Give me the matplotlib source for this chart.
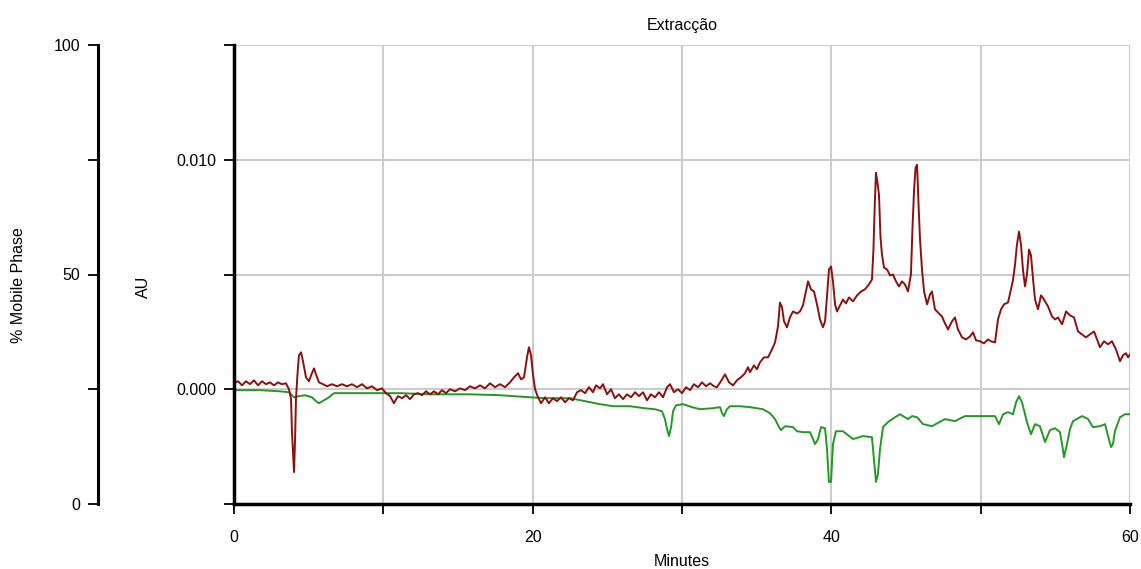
import numpy as np
from matplotlib import pyplot as plt, rcParams

rcParams['font.family'] = ['Liberation Sans', 'DejaVu Sans']
rcParams['axes.unicode_minus'] = False

# 数据（时间：分钟，吸光度：mAU）
red_t = [0.0, 0.27, 0.54, 0.80, 1.07, 1.34, 1.61, 1.88, 2.14, 2.41, 2.68, 2.95, 3.21, 3.48, 3.68,
         3.82, 3.88, 4.02, 4.09, 4.15, 4.25, 4.35, 4.49, 4.62, 4.82, 5.02, 5.22, 5.36, 5.49, 5.69,
         5.96, 6.23, 6.56, 6.90, 7.23, 7.57, 7.90, 8.24, 8.57, 8.91, 9.24, 9.58, 9.91, 10.18, 10.45,
         10.71, 10.98, 11.25, 11.52, 11.79, 12.05, 12.32, 12.59, 12.86, 13.13, 13.39, 13.66, 13.93,
         14.20, 14.46, 14.80, 15.13, 15.47, 15.80, 16.14, 16.47, 16.81, 17.14, 17.48, 17.81, 18.15,
         18.48, 18.75, 19.02, 19.22, 19.42, 19.62, 19.75, 19.89, 20.02, 20.16, 20.36, 20.56, 20.83,
         21.09, 21.36, 21.63, 21.90, 22.17, 22.43, 22.70, 22.97, 23.24, 23.51, 23.77, 24.04, 24.24,
         24.51, 24.71, 24.98, 25.25, 25.51, 25.78, 26.05, 26.32, 26.59, 26.85, 27.12, 27.39, 27.66,
         27.92, 28.19, 28.46, 28.73, 29.00, 29.20, 29.46, 29.73, 30.00, 30.27, 30.54, 30.80, 31.07,
         31.34, 31.61, 31.88, 32.14, 32.34, 32.61, 32.88, 33.15, 33.42, 33.68, 33.95, 34.22, 34.42,
         34.55, 34.82, 35.02, 35.22, 35.49, 35.76, 36.03, 36.23, 36.43, 36.56, 36.70, 36.83, 37.03,
         37.23, 37.43, 37.70, 37.90, 38.10, 38.30, 38.44, 38.64, 38.84, 39.04, 39.24, 39.44, 39.58,
         39.71, 39.84, 39.98, 40.11, 40.25, 40.38, 40.58, 40.78, 40.98, 41.18, 41.45, 41.72, 41.99,
         42.25, 42.52, 42.72, 42.82, 42.92, 42.99, 43.09, 43.19, 43.29, 43.39, 43.53, 43.73, 43.93,
         44.13, 44.33, 44.53, 44.73, 44.93, 45.13, 45.33, 45.43, 45.54, 45.64, 45.74, 45.84, 45.94,
         46.07, 46.21, 46.41, 46.61, 46.74, 46.94, 47.14, 47.41, 47.61, 47.81, 48.08, 48.28, 48.48,
         48.75, 49.02, 49.29, 49.49, 49.69, 49.96, 50.22, 50.49, 50.69, 50.96, 51.16, 51.36, 51.56,
         51.83, 52.03, 52.17, 52.30, 52.43, 52.57, 52.70, 52.83, 52.97, 53.10, 53.24, 53.37, 53.51,
         53.64, 53.84, 54.04, 54.24, 54.51, 54.78, 54.98, 55.18, 55.45, 55.72, 55.98, 56.25, 56.52,
         56.79, 57.05, 57.32, 57.59, 57.79, 57.99, 58.26, 58.53, 58.79, 59.06, 59.33, 59.53, 59.73,
         59.87, 60.0]
red_mau = [0.26, 0.35, 0.17, 0.35, 0.22, 0.39, 0.17, 0.35, 0.22, 0.30, 0.17, 0.30, 0.22, 0.26, 0.0,
           -0.43, -1.83, -3.61, -2.17, -0.43, 0.65, 1.48, 1.61, 1.22, 0.52, 0.35, 0.70, 0.91, 0.65, 0.30,
           0.22, 0.13, 0.22, 0.13, 0.22, 0.13, 0.22, 0.09, 0.22, 0.04, 0.13, -0.04, 0.04, -0.17, -0.30,
           -0.61, -0.30, -0.39, -0.26, -0.43, -0.22, -0.17, -0.26, -0.09, -0.22, -0.09, -0.22, -0.04,
           -0.17, 0.0, -0.09, 0.04, -0.04, 0.13, 0.04, 0.17, 0.04, 0.26, 0.09, 0.22, 0.09,
           0.30, 0.52, 0.70, 0.43, 0.52, 1.39, 1.83, 1.48, 0.65, 0.0, -0.35, -0.61, -0.35,
           -0.61, -0.39, -0.52, -0.35, -0.57, -0.39, -0.48, -0.13, -0.04, -0.17, 0.09, -0.13, 0.17,
           0.04, 0.22, -0.22, 0.0, -0.39, -0.22, -0.43, -0.22, -0.35, -0.13, -0.30, -0.13, -0.48,
           -0.22, -0.35, -0.13, -0.35, 0.09, 0.22, -0.13, 0.0, -0.17, 0.09, -0.04, 0.22, 0.09,
           0.30, 0.13, 0.26, 0.13, 0.09, 0.35, 0.65, 0.30, 0.17, 0.39, 0.52, 0.70, 0.96,
           0.74, 1.04, 0.87, 1.17, 1.39, 1.39, 1.74, 2.04, 2.74, 3.78, 3.57, 2.96, 2.70,
           3.13, 3.39, 3.30, 3.39, 3.65, 4.26, 4.70, 4.35, 4.26, 3.70, 3.04, 2.70, 2.96,
           4.04, 5.22, 5.35, 4.70, 3.70, 3.39, 3.65, 3.91, 3.74, 4.00, 3.83, 4.09, 4.26,
           4.35, 4.57, 4.78, 6.09, 8.26, 9.43, 9.00, 8.48, 6.65, 5.87, 5.30, 5.22, 4.96,
           5.00, 4.70, 4.48, 4.70, 4.57, 4.26, 5.00, 6.96, 8.70, 9.65, 9.78, 8.04, 6.52,
           5.22, 4.26, 3.70, 4.13, 4.26, 3.48, 3.35, 3.17, 2.87, 2.61, 2.96, 3.13, 2.61,
           2.26, 2.17, 2.30, 2.48, 2.13, 2.09, 2.00, 2.17, 2.09, 2.04, 3.04, 3.48, 3.70,
           3.78, 4.35, 4.78, 5.43, 6.30, 6.87, 6.30, 5.22, 4.48, 5.00, 6.09, 5.83, 4.78,
           3.91, 3.48, 4.09, 3.91, 3.61, 3.17, 3.04, 3.13, 2.83, 3.39, 3.22, 3.13, 2.52,
           2.39, 2.26, 2.39, 2.52, 2.17, 1.83, 2.09, 1.96, 2.09, 1.74, 1.22, 1.48, 1.57,
           1.39, 1.52]

green_t = [0.0, 1.74, 3.08, 3.68, 3.88, 4.02, 4.35, 4.75, 5.22, 5.49, 5.69, 6.03, 6.36, 6.70, 7.43,
           9.11, 11.12, 13.13, 15.80, 17.81, 19.82, 20.83, 22.50, 23.51, 24.51, 25.38, 26.52, 27.52,
           28.19, 28.66, 28.86, 29.00, 29.13, 29.27, 29.40, 29.60, 30.07, 30.67, 31.21, 32.01, 32.55,
           32.68, 32.81, 33.01, 33.21, 33.88, 34.55, 35.42, 35.89, 36.23, 36.50, 36.63, 36.90, 37.43,
           37.70, 38.10, 38.57, 38.77, 38.91, 39.11, 39.31, 39.58, 39.71, 39.84, 39.98, 40.11, 40.31,
           40.78, 41.45, 42.12, 42.72, 42.85, 42.99, 43.12, 43.26, 43.46, 43.80, 44.26, 44.60, 45.13,
           45.40, 45.74, 46.14, 46.74, 47.61, 48.28, 48.95, 50.09, 50.96, 51.23, 51.50, 51.83, 52.17,
           52.37, 52.57, 52.77, 53.10, 53.37, 53.64, 53.97, 54.31, 54.64, 54.98, 55.31, 55.45, 55.58,
           55.78, 55.98, 56.18, 56.79, 57.19, 57.52, 57.99, 58.33, 58.53, 58.73, 58.86, 58.99, 59.33,
           59.66, 60.0]
green_mau = [-0.04, -0.04, -0.09, -0.13, -0.26, -0.35, -0.30, -0.26, -0.35, -0.52, -0.61, -0.48, -0.35, -0.17, -0.17,
             -0.17, -0.17, -0.22, -0.22, -0.26, -0.35, -0.39, -0.39, -0.52, -0.65, -0.74, -0.74, -0.83,
             -0.87, -0.96, -1.30, -1.74, -2.04, -1.65, -0.96, -0.70, -0.65, -0.78, -0.87, -0.83, -0.78,
             -1.04, -1.17, -0.87, -0.74, -0.74, -0.78, -0.87, -1.04, -1.30, -1.65, -1.78, -1.61, -1.65,
             -1.83, -1.87, -1.87, -2.17, -2.39, -2.17, -1.65, -1.70, -2.61, -4.04, -4.04, -2.39, -1.83,
             -1.83, -2.17, -2.04, -2.09, -3.04, -4.04, -3.70, -2.61, -1.65, -1.43, -1.22, -1.09, -1.30,
             -1.17, -1.22, -1.52, -1.61, -1.30, -1.39, -1.17, -1.17, -1.17, -1.52, -1.09, -1.00, -1.09,
             -0.57, -0.30, -0.57, -1.43, -1.96, -1.52, -1.61, -2.30, -1.78, -1.70, -1.87, -2.39, -2.96,
             -2.39, -1.74, -1.39, -1.17, -1.30, -1.65, -1.61, -1.52, -2.04, -2.52, -2.39, -1.83, -1.22,
             -1.09, -1.09]

au_ticks = [-0.005, 0.0, 0.005, 0.010, 0.015]
au_labels = ['', '0.000', '', '0.010', '']
min_ticks = [0, 10, 20, 30, 40, 50, 60]
min_labels = ['0', '', '20', '', '40', '', '60']
mp_ticks = [0, 25, 50, 75, 100]
mp_labels = ['0', '', '50', '', '100']

W, H = 1141, 569
fig = plt.figure(figsize=(W / 100, H / 100), dpi=100)
pos = [234 / W, 1 - 504 / H, 896 / W, 459 / H]
fs = 11.5

# 主坐标轴（AU）
ax = fig.add_axes(pos)
ax.plot(green_t, np.array(green_mau) / 1000, color='#229922', linewidth=1.4)
ax.plot(red_t, np.array(red_mau) / 1000, color='#8b1010', linewidth=1.4)
ax.set_xlim(0, 60)
ax.set_ylim(-0.005, 0.015)
ax.set_xticks(min_ticks)
ax.set_xticklabels(min_labels, fontsize=fs)
ax.set_yticks(au_ticks)
ax.set_yticklabels(au_labels, fontsize=fs)
ax.grid(True, color='#cccccc', linewidth=1.5)
ax.set_axisbelow(True)
for s in ['top', 'right']:
    ax.spines[s].set_visible(False)
for s in ['left', 'bottom']:
    ax.spines[s].set_linewidth(2.5)
ax.tick_params(axis='both', length=7, width=1.3, color='black', pad=6)
ax.tick_params(axis='x', pad=12)
ax.set_title('Extracção', fontsize=fs, pad=11)
fig.text(682 / W, 1 - 562 / H, 'Minutes', fontsize=fs, ha='center', va='center')
fig.text(143 / W, 1 - 287 / H, 'AU', fontsize=fs, rotation=90, ha='center', va='center')

# 流动相坐标轴（%）
ax2 = fig.add_axes([98 / W, pos[1], 0.001, pos[3]])
ax2.set_ylim(0, 100)
ax2.set_xticks([])
ax2.set_yticks(mp_ticks)
ax2.set_yticklabels(mp_labels, fontsize=fs)
ax2.patch.set_visible(False)
for s in ['top', 'right', 'bottom']:
    ax2.spines[s].set_visible(False)
ax2.spines['left'].set_linewidth(2.2)
ax2.tick_params(axis='y', length=7, width=1.3, pad=6)
fig.text(19 / W, 1 - 285 / H, '% Mobile Phase', fontsize=fs, rotation=90, ha='center', va='center')

plt.savefig('out.png', dpi=100)
